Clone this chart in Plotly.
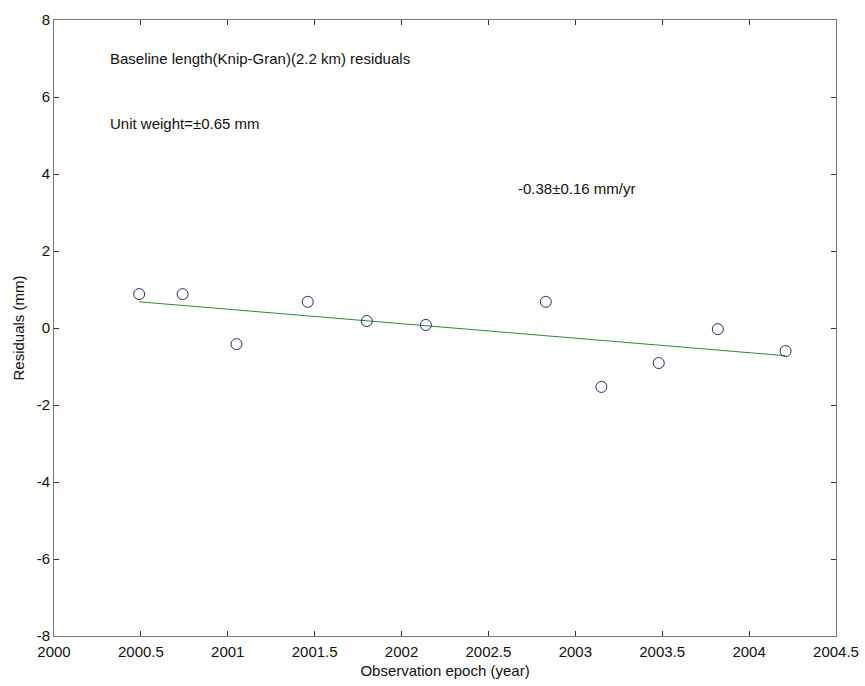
import plotly.graph_objects as go

# Observation epochs (decimal year) and baseline residuals (mm)
epochs = [2000.49, 2000.74, 2001.05, 2001.46, 2001.80, 2002.14,
          2002.83, 2003.15, 2003.48, 2003.82, 2004.21]
residuals = [0.88, 0.88, -0.42, 0.68, 0.18, 0.08,
             0.68, -1.53, -0.91, -0.03, -0.60]

# Linear trend endpoints (-0.38 mm/yr)
trend_x = [2000.49, 2004.21]
trend_y = [0.68, -0.72]

x_ticks = [2000, 2000.5, 2001, 2001.5, 2002, 2002.5, 2003, 2003.5, 2004, 2004.5]
x_labels = ["2000", "2000.5", "2001", "2001.5", "2002", "2002.5", "2003", "2003.5", "2004", "2004.5"]
y_ticks = [-8, -6, -4, -2, 0, 2, 4, 6, 8]
y_labels = ["-8", "-6", "-4", "-2", "0", "2", "4", "6", "8"]

font = "Liberation Sans, Arial, sans-serif"

fig = go.Figure()
fig.add_trace(go.Scatter(
    x=trend_x, y=trend_y, mode="lines",
    line=dict(color="#2f8a3a", width=1), showlegend=False, hoverinfo="skip"))
fig.add_trace(go.Scatter(
    x=epochs, y=residuals, mode="markers",
    marker=dict(symbol="circle-open", size=11, color="#2a2a7a",
                line=dict(width=1, color="#2a2a7a")),
    showlegend=False))

axis_common = dict(
    showgrid=False, zeroline=False, showline=True, linecolor="#777777",
    linewidth=1, mirror="ticks", ticks="inside", ticklen=5, automargin=False,
    tickcolor="#333333", tickfont=dict(family=font, size=15, color="#111111"),
)

fig.update_xaxes(range=[2000, 2004.5], tickvals=x_ticks, ticktext=x_labels,
                 ticklabelstandoff=2,
                 title=dict(text="Observation epoch (year)", standoff=6,
                            font=dict(family=font, size=15, color="#111111")),
                 **axis_common)
fig.update_yaxes(range=[-8, 8], tickvals=y_ticks, ticktext=y_labels,
                 title=dict(text="Residuals (mm)", standoff=8,
                            font=dict(family=font, size=15, color="#111111")),
                 **axis_common)

annots = [
    (2000.31, 7.0, "Baseline length(Knip-Gran)(2.2 km) residuals"),
    (2000.31, 5.3, "Unit weight=\u00b10.65 mm"),
    (2002.66, 3.62, "-0.38\u00b10.16 mm/yr"),
]
for ax, ay, txt in annots:
    fig.add_annotation(x=ax, y=ay, text=txt, showarrow=False,
                       xanchor="left", yanchor="middle",
                       font=dict(family=font, size=15, color="#111111"))

fig.update_layout(
    width=865, height=686,
    margin=dict(l=54, r=29, t=20, b=50),
    plot_bgcolor="white", paper_bgcolor="white",
)

fig.write_html("out.html")
